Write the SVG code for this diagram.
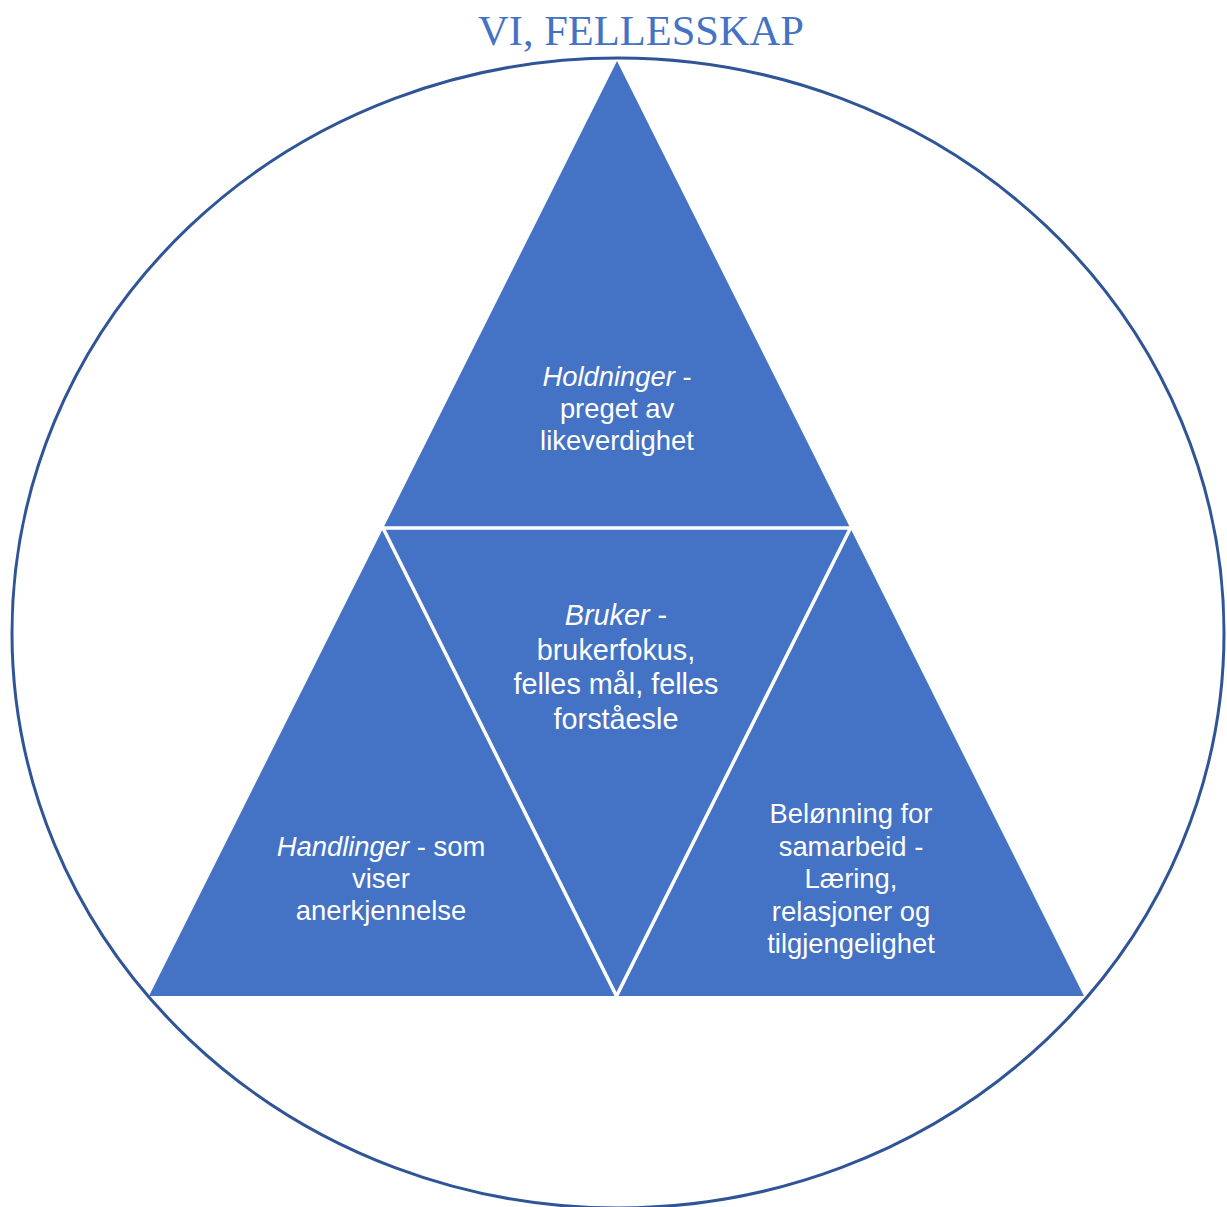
<svg xmlns="http://www.w3.org/2000/svg" width="1227" height="1207" viewBox="0 0 1227 1207">
  <style>
    .title { font-family: "Liberation Serif", "Times New Roman", serif; font-size: 42.5px; fill: #4472C4; text-anchor: middle; }
    .label { font-family: "Liberation Sans", Arial, sans-serif; font-size: 27.4px; fill: #FFFFFF; text-anchor: middle; }
    .label.big { font-size: 28.8px; }
    .it { font-style: italic; }
    .tri { fill: #4472C4; }
    .divider { fill: none; stroke: #FFFFFF; stroke-width: 3.5; stroke-linejoin: miter; }
    .ring { fill: none; stroke: #2F5597; stroke-width: 3; }
  </style>

  <rect width="1227" height="1207" fill="#FFFFFF"/>

  <text class="title" x="641" y="45">VI, FELLESSKAP</text>

  <!-- outer ring -->
  <ellipse class="ring" cx="618" cy="633" rx="606" ry="575"/>

  <!-- four triangles: one large triangle split by an inverted inner triangle -->
  <g id="triangles">
    <polygon class="tri" points="617,61 1084,996 149,996"/>
  </g>

  <g id="connectors">
    <polygon class="divider" points="383,528 850.5,528 616.5,996"/>
  </g>

  <g id="node-holdninger">
    <text class="label" x="617" y="386"><tspan class="it">Holdninger</tspan> -</text>
    <text class="label" x="617" y="418">preget av</text>
    <text class="label" x="617" y="450">likeverdighet</text>
  </g>

  <g id="node-bruker">
    <text class="label big" x="616" y="625"><tspan class="it">Bruker</tspan> -</text>
    <text class="label big" x="616" y="660">brukerfokus,</text>
    <text class="label big" x="616" y="694">felles mål, felles</text>
    <text class="label big" x="616" y="729">forståesle</text>
  </g>

  <g id="node-handlinger">
    <text class="label" x="381" y="856"><tspan class="it">Handlinger</tspan> - som</text>
    <text class="label" x="381" y="888">viser</text>
    <text class="label" x="381" y="920">anerkjennelse</text>
  </g>

  <g id="node-belonning">
    <text class="label" x="851" y="823">Belønning for</text>
    <text class="label" x="851" y="855.5">samarbeid -</text>
    <text class="label" x="851" y="888">Læring,</text>
    <text class="label" x="851" y="920.5">relasjoner og</text>
    <text class="label" x="851" y="953">tilgjengelighet</text>
  </g>
</svg>
